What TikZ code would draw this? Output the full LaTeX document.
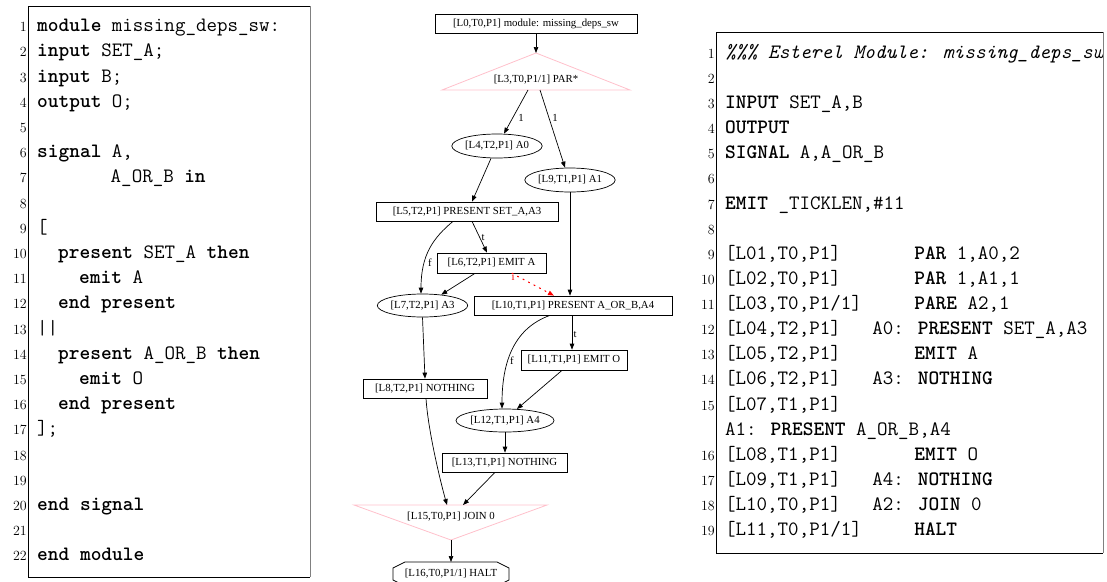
\documentclass[tikz,border=0pt]{standalone}
\usepackage{fontspec}
\usetikzlibrary{shapes.geometric,arrows.meta,calc}
\newfontfamily\gvfamily{Liberation Serif}
\newcommand\gvfont{\gvfamily\fontsize{10.8}{12}\selectfont}
\newcommand\codefont{\ttfamily\fontsize{20.4}{25}\selectfont}
\newcommand\numfont{\rmfamily\fontsize{14}{14}\selectfont}
\definecolor{gvpink}{HTML}{FFC0CB}
\newcommand\codeL[2]{\node[lnum] (lnA#1) at (27,{31.7+(#1-1)*25.2}) {#1};\node[codeline] (lcA#1) at (37,{31.7+(#1-1)*25.2}) {#2};}
\newcommand\numL[1]{\node[lnum] (lnA#1) at (27,{31.7+(#1-1)*25.2}) {#1};}
\newcommand\numR[2]{\node[lnum] (lnB#2) at (715,{58.3+#1*25.13}) {#2};}
\newcommand\codeR[2]{\node[codeline] (lcB#1) at (725,{58.3+#1*25.13}) {#2};}
\begin{document}
\begin{tikzpicture}[x=1pt,y=-1pt,
  gbox/.style={draw, line width=0.7pt, rectangle, inner sep=0pt, font=\gvfont},
  gell/.style={draw, ellipse, line width=0.7pt, inner sep=0pt, font=\gvfont},
  gtxt/.style={inner sep=0pt, font=\gvfont},
  gedge/.style={line width=0.7pt, -{Triangle[length=6pt,width=4.5pt]}},
  elab/.style={inner sep=0pt, font=\gvfont},
  pinkline/.style={draw=gvpink, line width=0.8pt},
  codeline/.style={anchor=base west, inner sep=0pt, font=\codefont},
  lnum/.style={anchor=base east, inner sep=0pt, font=\numfont},
  frame/.style={line width=1pt}]
\useasboundingbox (0,0) rectangle (1107,581);

% ---------- left panel ----------
\draw[frame] (310,6) -- (28,6) -- (28,577) -- (310,577);
\draw[frame, gray] (310,6) -- (310,577);
\codeL{1}{\textbf{module} missing\_deps\_sw:}
\codeL{2}{\textbf{input} SET\_A;}
\codeL{3}{\textbf{input} B;}
\codeL{4}{\textbf{output} O;}
\numL{5}
\codeL{6}{\textbf{signal} A,}
\codeL{7}{~~~~~~~A\_OR\_B \textbf{in}}
\numL{8}
\codeL{9}{[}
\codeL{10}{~~\textbf{present} SET\_A \textbf{then}}
\codeL{11}{~~~~\textbf{emit} A}
\codeL{12}{~~\textbf{end present}}
\codeL{13}{||}
\codeL{14}{~~\textbf{present} A\_OR\_B \textbf{then}}
\codeL{15}{~~~~\textbf{emit} O}
\codeL{16}{~~\textbf{end present}}
\codeL{17}{];}
\numL{18}
\numL{19}
\codeL{20}{\textbf{end signal}}
\numL{21}
\codeL{22}{\textbf{end module}}

% ---------- middle graph ----------
\node[gbox, minimum width=202pt, minimum height=19pt] (L0) at (536,23.5) {[L0,T0,P1] module: missing\_deps\_sw};
\coordinate (parTop) at (536,53);
\coordinate (parL) at (442,90);
\coordinate (parR) at (630,90);
\coordinate (parB) at (536,90);
\draw[pinkline] (parTop) -- (parL) -- (parR) -- cycle;
\node[gtxt] (par) at (536,80) {[L3,T0,P1/1] PAR*};
\node[gell, minimum width=85pt, minimum height=24pt] (A0) at (497,146) {[L4,T2,P1] A0};
\node[gell, minimum width=81pt, minimum height=24pt] (A1) at (570,180) {[L9,T1,P1] A1};
\node[gbox, minimum width=182pt, minimum height=19pt] (L5) at (467,211.5) {[L5,T2,P1] PRESENT SET\_A,A3};
\node[gbox, minimum width=109pt, minimum height=20pt] (L6) at (491.5,263) {[L6,T2,P1] EMIT A};
\node[gell, minimum width=85pt, minimum height=23pt] (L7) at (422.5,305.5) {[L7,T2,P1] A3};
\node[gbox, minimum width=198pt, minimum height=19pt] (L10) at (573,305.5) {[L10,T1,P1] PRESENT A\_OR\_B,A4};
\node[gbox, minimum width=124pt, minimum height=19pt] (L8) at (425,388.5) {[L8,T2,P1] NOTHING};
\node[gbox, minimum width=106pt, minimum height=20pt] (L11) at (574,360) {[L11,T1,P1] EMIT O};
\node[gell, minimum width=86pt, minimum height=23pt] (L12) at (505,420.5) {[L12,T1,P1] A4};
\node[gbox, minimum width=125pt, minimum height=19pt] (L13) at (504.5,462.5) {[L13,T1,P1] NOTHING};
\coordinate (joinTL) at (354,505);
\coordinate (joinTR) at (547,505);
\coordinate (joinT) at (451,505);
\coordinate (joinB) at (451,540);
\draw[pinkline] (joinTL) -- (joinTR) -- (joinB) -- cycle;
\node[gtxt] (join) at (451,517) {[L15,T0,P1] JOIN 0};
\coordinate (haltT) at (451,562);
\draw[line width=0.7pt] (405,562) -- (497,562) -- (509,568) -- (509,580) -- (497,586) -- (405,586) -- (393,580) -- (393,568) -- cycle;
\node[gtxt] (halt) at (451,573.5) {[L16,T0,P1/1] HALT};

% edges
\draw[gedge] (L0.south) -- (parTop);
\draw[gedge] ([xshift=-8pt]parB) -- ([xshift=7pt]A0.north);
\draw[gedge] ([xshift=4pt]parB) -- ([xshift=-5pt]A1.north);
\node[elab] (e1) at (521,118) {1};
\node[elab] (e2) at (555,118) {1};
\draw[gedge] ([xshift=-6pt]A0.south) -- ([xshift=5pt]L5.north);
\draw[gedge] (A1.south) -- (A1.south |- L10.north);
\draw[gedge] ([xshift=5pt]L5.south) -- ([xshift=-4.5pt]L6.north);
\node[elab] (e3) at (483,238) {t};
\draw[gedge] ([xshift=-14pt]L5.south) .. controls (433,238) and (421,255) .. ([xshift=-1.5pt]L7.north);
\node[elab] (e4) at (430,263) {f};
\draw[gedge] ([xshift=-16.5pt]L6.south) -- (L7.30);
\draw[gedge, red, line width=1.1pt, dash pattern=on 1.2pt off 5pt, line cap=round] ([xshift=20.5pt]L6.south) -- ([xshift=-19pt]L10.north);
\node[elab, text=red] (e5) at (513,277) {i};
\draw[gedge] (L7.south) -- (L8.north);
\draw[gedge] ([xshift=-1pt]L10.south) -- ([xshift=-2pt]L11.north);
\node[elab] (e6) at (575,335) {t};
\draw[gedge] ([xshift=-23pt]L10.south) .. controls (515,328) and (502,360) .. ([xshift=-3pt]L12.north);
\node[elab] (e7) at (512,361) {f};
\draw[gedge] ([xshift=-12pt]L11.south) -- (L12.44);
\draw[gedge] (L12.south) -- (L12.south |- L13.north);
\draw[gedge] ([xshift=1pt]L8.south) .. controls (428,430) and (440,480) .. ([xshift=-4pt]joinT);
\draw[gedge] ([xshift=-9.5pt]L13.south) -- ([xshift=12pt]joinT);
\draw[gedge] (joinB) -- (haltT);

% ---------- right panel ----------
\draw[frame] (1103,32) -- (716,32) -- (716,553) -- (1103,553);
\draw[frame, gray] (1103,32) -- (1103,553);
\numR{0}{1}\numR{1}{2}\numR{2}{3}\numR{3}{4}\numR{4}{5}\numR{5}{6}\numR{6}{7}\numR{7}{8}
\numR{8}{9}\numR{9}{10}\numR{10}{11}\numR{11}{12}\numR{12}{13}\numR{13}{14}\numR{14}{15}
\numR{16}{16}\numR{17}{17}\numR{18}{18}\numR{19}{19}
\begin{scope}
\clip (716,32) rectangle (1102,553);
\codeR{0}{\textit{\%\%\% Esterel Module: missing\_deps\_sw}}
\codeR{2}{\textbf{INPUT} SET\_A,B}
\codeR{3}{\textbf{OUTPUT}}
\codeR{4}{\textbf{SIGNAL} A,A\_OR\_B}
\codeR{6}{\textbf{EMIT} \_TICKLEN,\#11}
\codeR{8}{[L01,T0,P1]~~~~~~~\textbf{PAR} 1,A0,2}
\codeR{9}{[L02,T0,P1]~~~~~~~\textbf{PAR} 1,A1,1}
\codeR{10}{[L03,T0,P1/1]~~~~~\textbf{PARE} A2,1}
\codeR{11}{[L04,T2,P1]~~~A0: \textbf{PRESENT} SET\_A,A3}
\codeR{12}{[L05,T2,P1]~~~~~~~\textbf{EMIT} A}
\codeR{13}{[L06,T2,P1]~~~A3: \textbf{NOTHING}}
\codeR{14}{[L07,T1,P1]}
\codeR{15}{A1: \textbf{PRESENT} A\_OR\_B,A4}
\codeR{16}{[L08,T1,P1]~~~~~~~\textbf{EMIT} O}
\codeR{17}{[L09,T1,P1]~~~A4: \textbf{NOTHING}}
\codeR{18}{[L10,T0,P1]~~~A2: \textbf{JOIN} 0}
\codeR{19}{[L11,T0,P1/1]~~~~~\textbf{HALT}}
\end{scope}
\end{tikzpicture}
\end{document}
